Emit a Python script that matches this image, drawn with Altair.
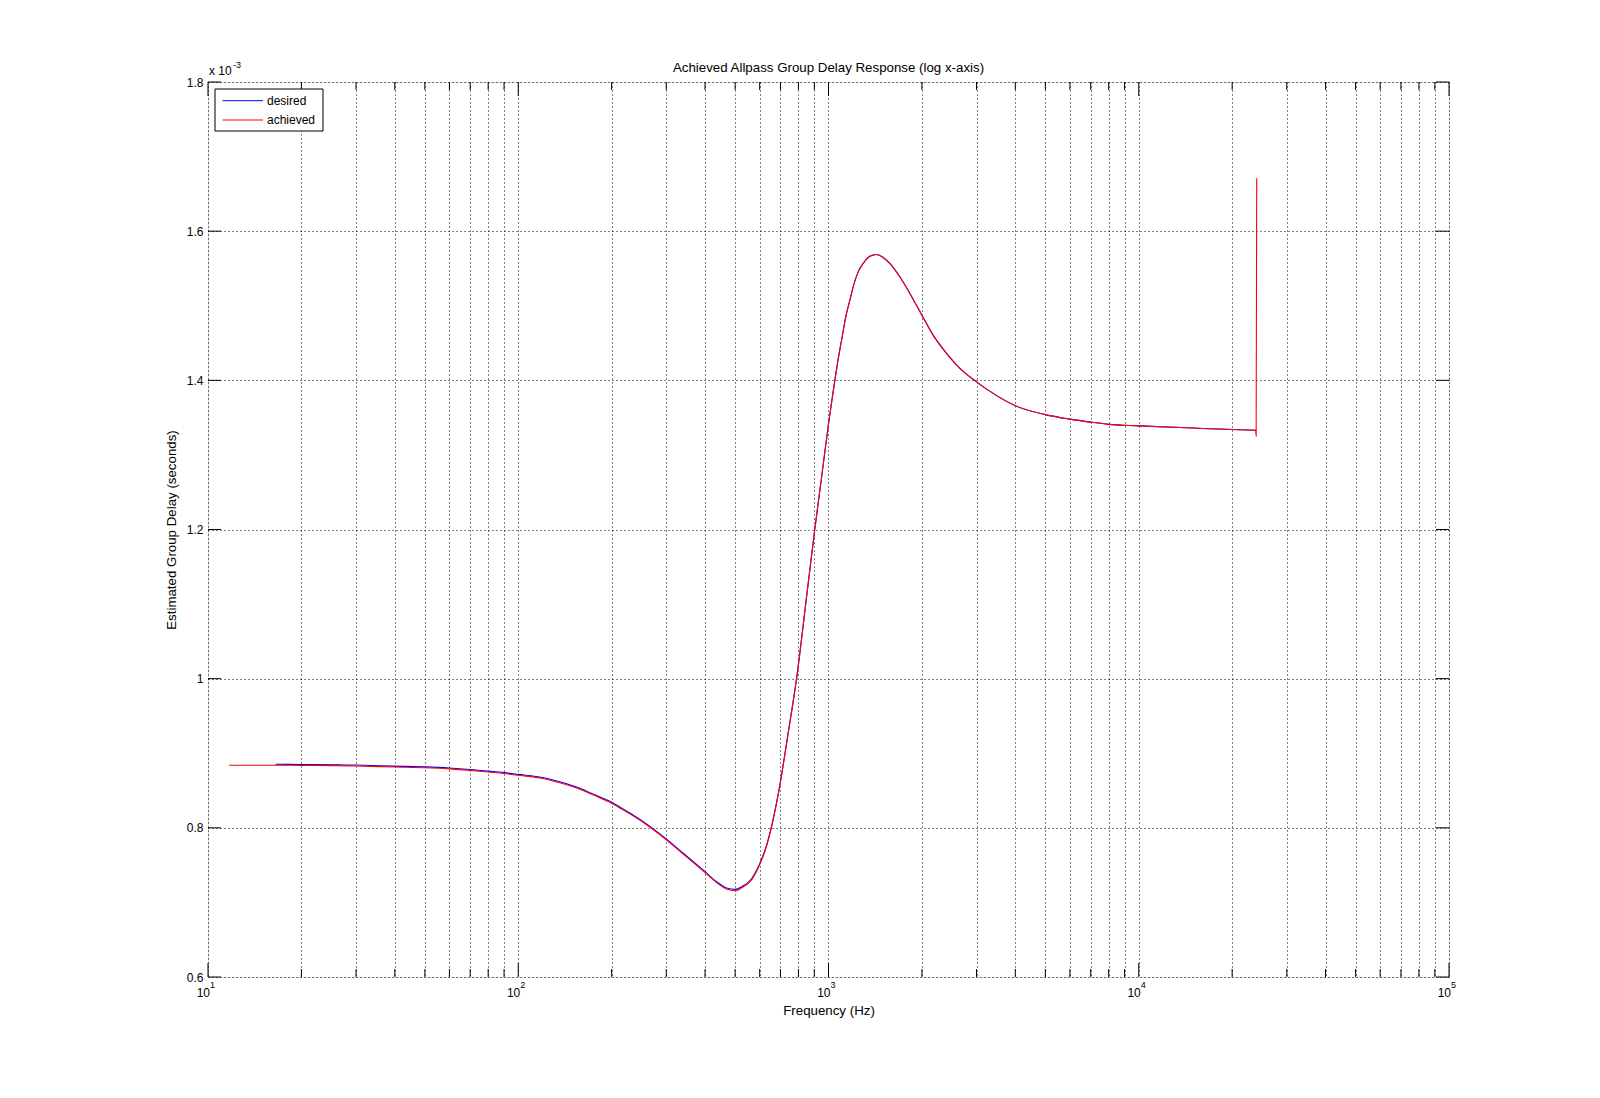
import altair as alt
import pandas as pd

# ---------------- data (group delay in units of 1e-3 s) ----------------
freq_achieved = [11.7, 16.5, 20, 30, 40, 50, 60, 70, 80, 90, 100, 120, 136, 158, 174,
                 200, 223, 253, 300, 332, 400, 436, 469, 500, 524, 565, 600, 631, 663,
                 693, 740, 789, 850, 903, 950, 1004, 1048, 1074, 1102, 1143, 1172, 1201,
                 1246, 1293, 1359, 1428, 1500, 1576, 1698, 1829, 2000, 2174, 2402, 2651,
                 3000, 3393, 4000, 5000, 6000, 7000, 8000, 10000, 15000, 20000,
                 23800, 23900, 24000]
gd_achieved = [0.884, 0.884, 0.8838, 0.883, 0.8815, 0.8805, 0.879, 0.877, 0.8748, 0.8728,
               0.8705, 0.8662, 0.8605, 0.8518, 0.8442, 0.8331, 0.8215, 0.8071, 0.7839,
               0.7685, 0.740, 0.7265, 0.7179, 0.7156, 0.7192, 0.7303, 0.7505, 0.775,
               0.8107, 0.8509, 0.925, 1.0, 1.11, 1.2, 1.27, 1.347, 1.4, 1.428, 1.454,
               1.4897, 1.5075, 1.5254, 1.5454, 1.5567, 1.5665, 1.5688, 1.5647, 1.5567,
               1.5388, 1.5165, 1.4874, 1.4606, 1.4361, 1.416, 1.398, 1.3825, 1.366,
               1.354, 1.348, 1.344, 1.341, 1.339, 1.336, 1.334, 1.333, 1.325, 1.671]

freq_desired = [16.5, 20, 30, 40, 50, 60, 70, 80, 90, 100, 120, 136, 158, 174,
                200, 223, 253, 300, 332, 400, 436, 469, 500, 524, 565, 600, 631, 663,
                693, 740, 789, 850, 903, 950, 1004, 1048, 1074, 1102, 1143, 1172, 1201,
                1246, 1293, 1359, 1428, 1500, 1576, 1698, 1829, 2000, 2174, 2402, 2651,
                3000, 3393, 4000, 5000, 6000, 7000, 8000, 10000, 15000, 20000, 24000]
gd_desired = [0.8852, 0.885, 0.8842, 0.8827, 0.8817, 0.8802, 0.8782, 0.876, 0.874,
              0.8717, 0.8674, 0.8617, 0.853, 0.8454, 0.8343, 0.8227, 0.8083, 0.7851,
              0.7697, 0.7412, 0.7277, 0.7193, 0.7175, 0.7208, 0.7318, 0.7519, 0.7762,
              0.8117, 0.8515, 0.925, 1.0, 1.11, 1.2, 1.27, 1.347, 1.4, 1.428, 1.454,
              1.4897, 1.5075, 1.5254, 1.5454, 1.5567, 1.5665, 1.5688, 1.5647, 1.5567,
              1.5388, 1.5165, 1.4874, 1.4606, 1.4361, 1.416, 1.398, 1.3825, 1.366,
              1.354, 1.348, 1.344, 1.341, 1.339, 1.336, 1.334, 1.333]

x_major = [10, 100, 1000, 10000, 100000]
x_base = ["10", "10", "10", "10", "10"]
x_exponents = ["1", "2", "3", "4", "5"]
x_minor = [m * d for d in [10, 100, 1000, 10000] for m in range(2, 10)]
y_ticks = [0.6, 0.8, 1.0, 1.2, 1.4, 1.6, 1.8]

legend_labels = ["desired", "achieved"]
legend_colors = ["#0000ff", "#ff0000"]

title_text = "Achieved Allpass Group Delay Response (log x-axis)"
x_title = "Frequency (Hz)"
y_title = "Estimated Group Delay (seconds)"

# ---------------- layout ----------------
W, H = 1241, 895
FONT = "Liberation Sans"
TFS = 13.3

xscale = alt.Scale(type="log", domain=[10, 100000], nice=False)
yscale = alt.Scale(domain=[0.6, 1.8], nice=False, zero=False)

df_a = pd.DataFrame({"f": freq_achieved, "gd": gd_achieved})
df_d = pd.DataFrame({"f": freq_desired, "gd": gd_desired})

xaxis = alt.Axis(
    values=x_major + x_minor, grid=True, gridDash=[1, 3], gridColor="black",
    gridOpacity=1, gridWidth=1, ticks=False, tickSize=0, domain=False,
    labels=False,
    title=x_title, titleFont=FONT, titleFontSize=TFS, titleFontWeight="normal",
    titleColor="black", titleY=37, titleBaseline="alphabetic", titleAlign="center",
)
yaxis = alt.Axis(
    values=y_ticks, grid=True, gridDash=[1, 3], gridColor="black", gridOpacity=1,
    gridWidth=1, ticks=False, tickSize=0, domain=False, format="~g",
    labelFont=FONT, labelFontSize=12, labelColor="black", labelPadding=5,
    labelBaseline="middle", labelFlush=False, labelOverlap=False,
    title=y_title, titleFont=FONT, titleFontSize=TFS, titleFontWeight="normal",
    titleColor="black", titleX=-33, titleY=H / 2, titleAngle=-90,
    titleBaseline="alphabetic", titleAlign="center",
)

desired = alt.Chart(df_d).mark_line(color=legend_colors[0], strokeWidth=1.1,
                                    interpolate="monotone").encode(
    x=alt.X("f:Q", scale=xscale, axis=xaxis),
    y=alt.Y("gd:Q", scale=yscale, axis=yaxis),
)
achieved = alt.Chart(df_a).mark_line(color=legend_colors[1], strokeWidth=1.1,
                                     interpolate="monotone").encode(
    x=alt.X("f:Q", scale=xscale),
    y=alt.Y("gd:Q", scale=yscale),
)

# inward ticks (MATLAB style)
df_xmaj = pd.DataFrame({"t": x_major, "b": x_base, "e": x_exponents})
df_xmin = pd.DataFrame({"t": x_minor})
df_y = pd.DataFrame({"v": y_ticks})

def xticks(df, length):
    bottom = alt.Chart(df).mark_rule(color="black", strokeWidth=1).encode(
        x=alt.X("t:Q", scale=xscale), y=alt.value(H), y2=alt.value(H - length))
    top = alt.Chart(df).mark_rule(color="black", strokeWidth=1).encode(
        x=alt.X("t:Q", scale=xscale), y=alt.value(0), y2=alt.value(length))
    return [bottom, top]

yt_left = alt.Chart(df_y).mark_rule(color="black", strokeWidth=1).encode(
    y=alt.Y("v:Q", scale=yscale), x=alt.value(0), x2=alt.value(13))
yt_right = alt.Chart(df_y).mark_rule(color="black", strokeWidth=1).encode(
    y=alt.Y("v:Q", scale=yscale), x=alt.value(W - 13), x2=alt.value(W))

# x tick labels 10^n
bases = alt.Chart(df_xmaj).mark_text(font=FONT, fontSize=12, align="right",
                                     baseline="alphabetic", dx=2, color="black").encode(
    x=alt.X("t:Q", scale=xscale), y=alt.value(H + 20), text="b:N")
exps = alt.Chart(df_xmaj).mark_text(font=FONT, fontSize=9, align="left",
                                    baseline="alphabetic", dx=2, color="black").encode(
    x=alt.X("t:Q", scale=xscale), y=alt.value(H + 11), text="e:N")

# y exponent annotation
df_one = pd.DataFrame({"k": [0]})
mult = alt.Chart(df_one).mark_text(font=FONT, fontSize=12, align="left",
                                   baseline="alphabetic", color="black").encode(
    x=alt.value(1), y=alt.value(-7), text=alt.value("x 10"))
mult_exp = alt.Chart(df_one).mark_text(font=FONT, fontSize=9, align="left",
                                       baseline="alphabetic", color="black").encode(
    x=alt.value(25), y=alt.value(-14), text=alt.value("-3"))

# legend
leg_box = alt.Chart(df_one).mark_rect(fill="white", stroke="black", strokeWidth=1).encode(
    x=alt.value(7), x2=alt.value(115), y=alt.value(7), y2=alt.value(49))
leg_layers = [leg_box]
for i, (lab, col) in enumerate(zip(legend_labels, legend_colors)):
    d = pd.DataFrame({"label": [lab]})
    yy = 18.7 + 19.3 * i
    leg_layers.append(alt.Chart(d).mark_rule(color=col, strokeWidth=1).encode(
        x=alt.value(14.5), x2=alt.value(55), y=alt.value(yy)))
    leg_layers.append(alt.Chart(d).mark_text(font=FONT, fontSize=12, align="left",
                                             baseline="middle", color="black").encode(
        x=alt.value(59), y=alt.value(yy), text="label:N"))

layers = [desired, achieved] + xticks(df_xmaj, 14) + xticks(df_xmin, 8) + \
    [yt_left, yt_right, bases, exps, mult, mult_exp] + leg_layers

chart = alt.layer(*layers).properties(
    width=W, height=H,
    title=alt.TitleParams(title_text, font=FONT, fontSize=TFS, fontWeight="normal",
                          color="black", anchor="middle", offset=9, dy=33,
                          baseline="alphabetic"),
    autosize=alt.AutoSizeParams(type="none"),
    padding={"left": 200, "top": 74, "right": 140, "bottom": 100},
).configure_view(stroke="black", strokeWidth=1).configure(background="white")

chart.save("out.html", embed_options={"renderer": "svg", "actions": False})
